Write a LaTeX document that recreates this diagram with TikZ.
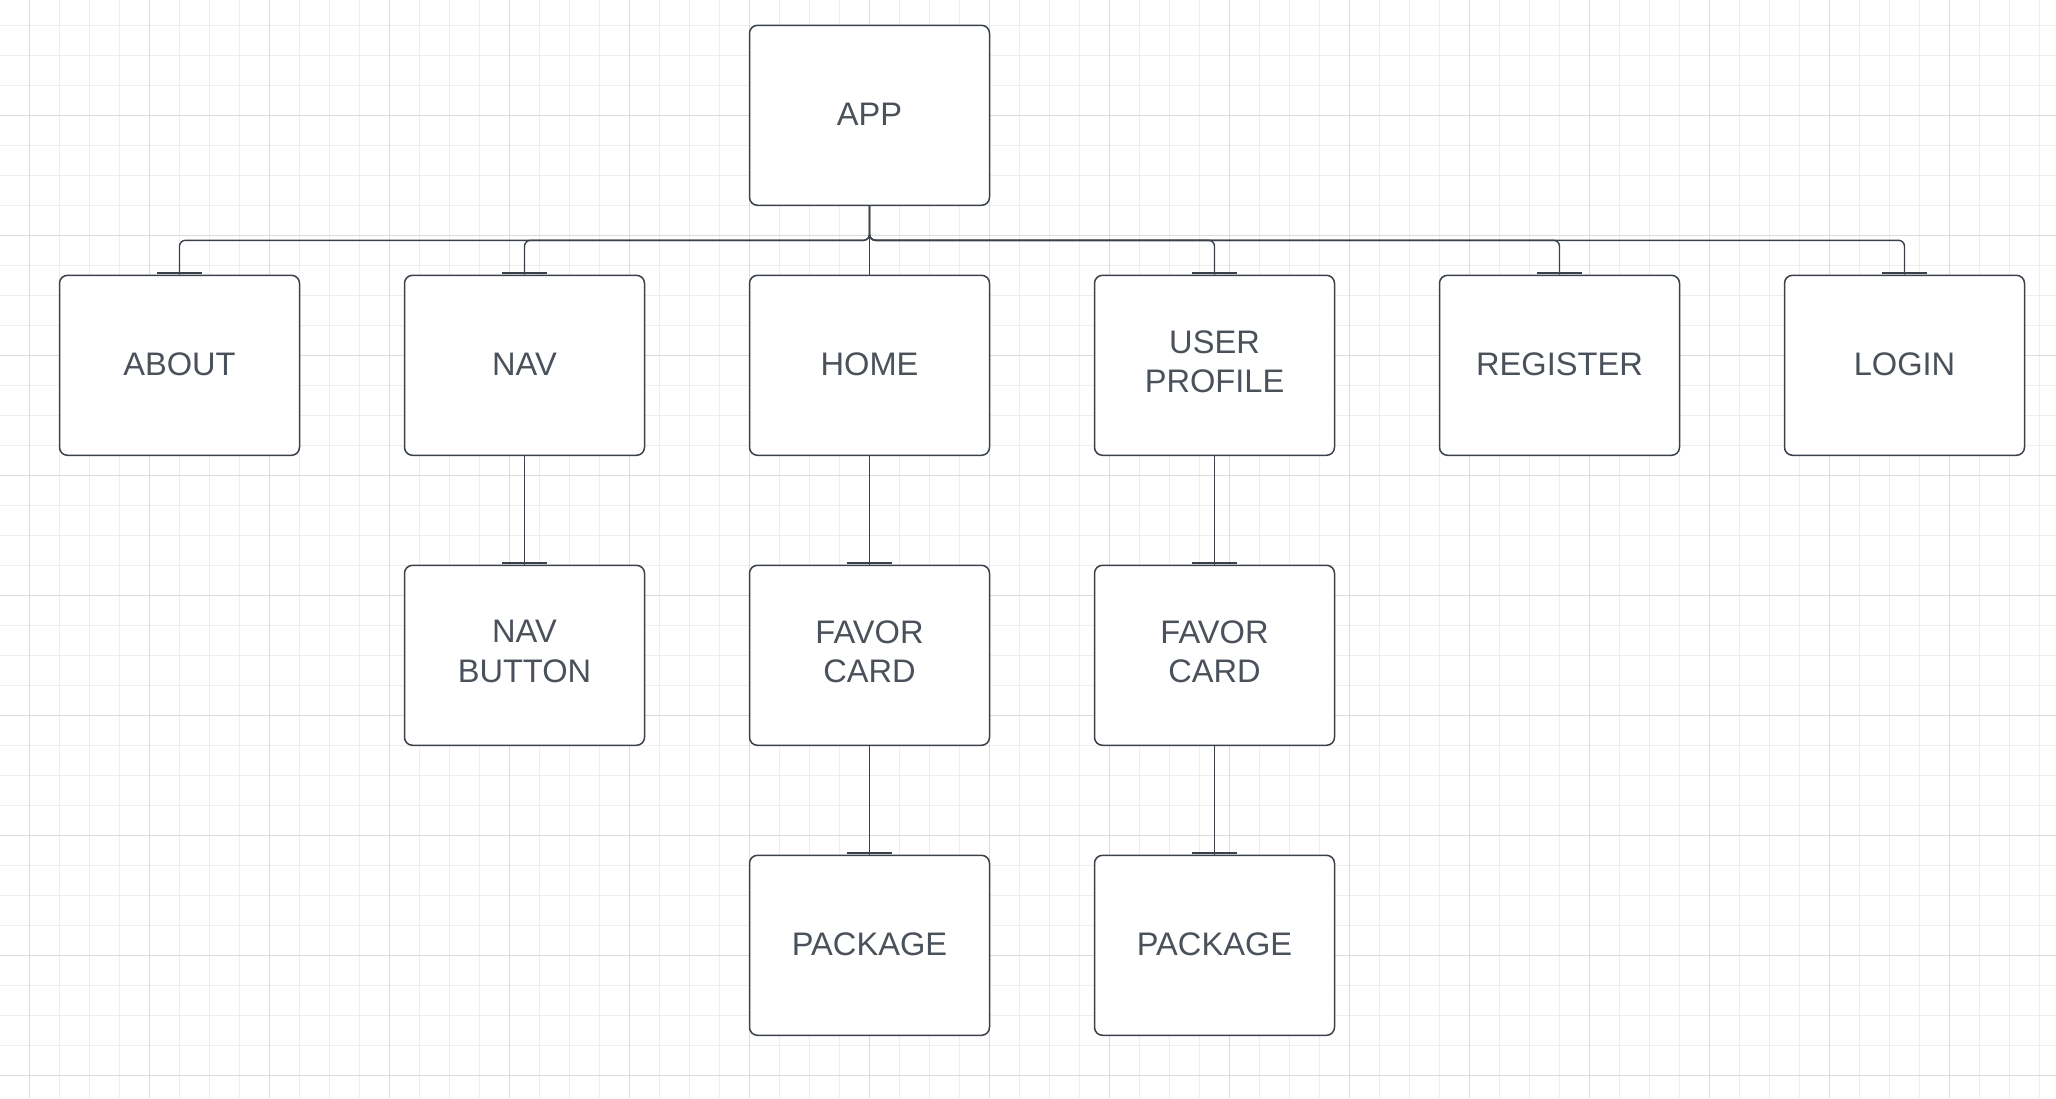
\documentclass[tikz,border=0pt]{standalone}
\usepackage{fontspec}
\setmainfont{Liberation Sans}
\definecolor{ink}{HTML}{3A414A}
\definecolor{txt}{HTML}{4A515B}
\definecolor{gminor}{HTML}{EEEEEE}
\definecolor{gmajor}{HTML}{DCDCDC}
\begin{document}
\begin{tikzpicture}[x=0.5pt,y=-0.5pt,
  box/.style={draw=ink, line width=0.75pt, rounded corners=4pt, fill=white,
    minimum width=120pt, minimum height=90pt, inner sep=0pt, align=center,
    text=txt, font=\fontsize{16.3pt}{19.65pt}\selectfont, text depth=1.3pt},
  twoline/.style={text depth=4pt},
  link/.style={draw=ink, line width=0.7pt, rounded corners=3pt},
  tee/.style={draw=ink, line width=1pt},
  gmin/.style={draw=gminor, line width=0.5pt},
  gmaj/.style={draw=gmajor, line width=0.5pt}]
\useasboundingbox (0,0) rectangle (2056,1098);
\fill[white] (0,0) rectangle (2056,1098);
% grid
\foreach \i in {0,...,69} \draw[gmin] ({-0.3+30*\i},0) -- ({-0.3+30*\i},1098);
\foreach \j in {0,...,37} \draw[gmin] (0,{-4.7+30*\j}) -- (2056,{-4.7+30*\j});
\foreach \i in {0,...,17} \draw[gmaj] ({29.7+120*\i},0) -- ({29.7+120*\i},1098);
\foreach \j in {0,...,9} \draw[gmaj] (0,{-4.7+120*\j}) -- (2056,{-4.7+120*\j});
% nodes
\node[box] (app) at (869.5,115.3) {APP};
\node[box] (about) at (179.5,365.3) {ABOUT};
\node[box] (nav) at (524.5,365.3) {NAV};
\node[box] (home) at (869.5,365.3) {HOME};
\node[box,twoline] (profile) at (1214.5,365.3) {USER\\PROFILE};
\node[box] (register) at (1559.5,365.3) {REGISTER};
\node[box] (login) at (1904.5,365.3) {LOGIN};
\node[box,twoline] (navbtn) at (524.5,655.3) {NAV\\BUTTON};
\node[box,twoline] (favorA) at (869.5,655.3) {FAVOR\\CARD};
\node[box,twoline] (favorB) at (1214.5,655.3) {FAVOR\\CARD};
\node[box] (packA) at (869.5,945.3) {PACKAGE};
\node[box] (packB) at (1214.5,945.3) {PACKAGE};
% connectors
\coordinate (bus) at (869.5,240.3);
\foreach \n in {about,nav,profile,register,login}
  \draw[link] (app.south) -- (bus) -| (\n.north);
\draw[link] (app.south) -- (home.north);
\draw[link] (nav.south) -- (navbtn.north);
\draw[link] (home.south) -- (favorA.north);
\draw[link] (favorA.south) -- (packA.north);
\draw[link] (profile.south) -- (favorB.north);
\draw[link] (favorB.south) -- (packB.north);
\foreach \n in {about,nav,profile,register,login,navbtn,favorA,favorB,packA,packB}
  \draw[tee] ([xshift=-11.2pt,yshift=0.6pt]\n.north) -- ([xshift=11.2pt,yshift=0.6pt]\n.north);
\end{tikzpicture}
\end{document}
